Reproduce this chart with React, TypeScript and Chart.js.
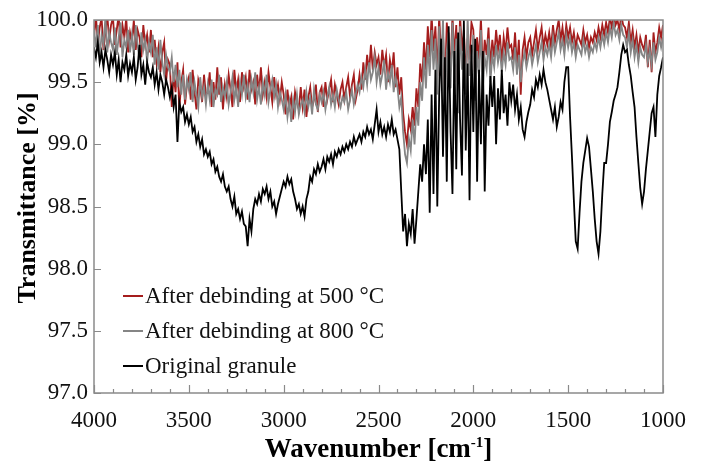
import React, { useEffect, useRef } from "react";
import { Chart, registerables } from "chart.js";

Chart.register(...registerables);

// Spectra sampled every 10 cm-1, from 4000 cm-1 down to 1000 cm-1
const WAVENUMBER_START = 4000;
const WAVENUMBER_STEP = 10;

const originalGranule = [
  99.78, 99.70, 99.82, 99.66, 99.74, 99.62, 99.76, 99.68, 99.58, 99.72,
  99.64, 99.74, 99.56, 99.68, 99.50, 99.66, 99.60, 99.72, 99.55, 99.65,
  99.58, 99.70, 99.52, 99.62, 99.80, 99.56, 99.64, 99.48, 99.66, 99.58,
  99.54, 99.62, 99.48, 99.58, 99.44, 99.56, 99.50, 99.40, 99.52, 99.46,
  99.38, 99.46, 99.30, 99.40, 99.02, 99.34, 99.26, 99.30, 99.18, 99.24,
  99.16, 99.22, 99.10, 99.14, 99.02, 99.08, 98.98, 99.04, 98.92, 98.96,
  98.90, 98.94, 98.84, 98.88, 98.78, 98.82, 98.74, 98.70, 98.76, 98.66,
  98.62, 98.66, 98.56, 98.50, 98.58, 98.44, 98.48, 98.40, 98.46, 98.36,
  98.34, 98.18, 98.40, 98.30, 98.48, 98.56, 98.52, 98.60, 98.54, 98.64,
  98.60, 98.66, 98.56, 98.62, 98.50, 98.54, 98.44, 98.52, 98.58, 98.64,
  98.70, 98.66, 98.74, 98.68, 98.72, 98.62, 98.56, 98.48, 98.52, 98.44,
  98.50, 98.42, 98.56, 98.62, 98.74, 98.70, 98.80, 98.76, 98.84, 98.78,
  98.82, 98.88, 98.80, 98.90, 98.86, 98.92, 98.84, 98.94, 98.90, 98.96,
  98.92, 98.98, 98.94, 99.00, 98.96, 99.02, 98.98, 99.06, 99.00, 99.04,
  99.08, 99.02, 99.10, 99.06, 99.14, 99.08, 99.12, 99.04, 99.16, 99.28,
  99.10, 99.18, 99.08, 99.14, 99.06, 99.16, 99.10, 99.20, 99.08, 99.12,
  99.04, 98.96, 98.62, 98.30, 98.44, 98.18, 98.36, 98.28, 98.48, 98.20,
  98.40, 98.62, 98.84, 98.70, 99.00, 98.76, 99.20, 98.45, 99.40, 98.60,
  99.60, 98.50, 99.40, 99.85, 98.90, 99.70, 98.70, 99.95, 99.10, 98.60,
  99.75, 98.80, 99.90, 99.20, 98.75, 100.00, 98.95, 99.65, 98.55, 99.80,
  99.10, 99.85, 98.70, 99.60, 99.00, 99.75, 98.62, 99.40, 99.15, 99.55,
  99.30, 99.55, 99.00, 99.45, 99.20, 99.60, 99.25, 99.40, 99.15, 99.50,
  99.35, 99.48, 99.28, 99.40, 99.20, 99.30, 99.12, 99.06, 99.18, 99.26,
  99.32, 99.44, 99.38, 99.52, 99.46, 99.56, 99.48, 99.60, 99.50, 99.44,
  99.36, 99.28, 99.20, 99.30, 99.14, 99.22, 99.34, 99.28, 99.50, 99.62,
  99.62, 99.22, 98.90, 98.55, 98.22, 98.16, 98.45, 98.70, 98.85, 98.95,
  99.05, 98.98, 98.80, 98.62, 98.40, 98.22, 98.12, 98.30, 98.60, 98.85,
  98.85, 99.00, 99.18, 99.26, 99.35, 99.40, 99.46, 99.58, 99.72, 99.80,
  99.74, 99.76, 99.64, 99.55, 99.42, 99.30, 99.06, 98.85, 98.65, 98.52,
  98.62, 98.80, 98.95, 99.10, 99.25, 99.30, 99.06, 99.40, 99.55, 99.62,
  99.70,
];

const after800 = [
  99.92, 99.78, 99.96, 99.70, 99.88, 99.80, 100.02, 99.74, 99.90, 99.82,
  99.76, 99.94, 99.72, 99.86, 99.98, 99.70, 99.84, 99.78, 99.92, 99.74,
  99.88, 99.72, 99.96, 99.80, 99.68, 99.90, 99.76, 99.84, 99.66, 99.82,
  99.74, 99.88, 99.64, 99.78, 99.60, 99.84, 99.66, 99.56, 99.72, 99.62,
  99.58, 99.70, 99.50, 99.64, 99.46, 99.60, 99.40, 99.56, 99.36, 99.52,
  99.44, 99.58, 99.34, 99.50, 99.40, 99.30, 99.54, 99.38, 99.46, 99.32,
  99.48, 99.36, 99.52, 99.30, 99.44, 99.40, 99.56, 99.34, 99.46, 99.38,
  99.50, 99.32, 99.42, 99.54, 99.36, 99.46, 99.30, 99.50, 99.40, 99.56,
  99.38, 99.48, 99.34, 99.52, 99.42, 99.58, 99.36, 99.46, 99.32, 99.50,
  99.40, 99.56, 99.34, 99.44, 99.52, 99.38, 99.48, 99.30, 99.42, 99.36,
  99.28, 99.40, 99.22, 99.34, 99.18, 99.36, 99.26, 99.40, 99.24, 99.32,
  99.36, 99.26, 99.42, 99.30, 99.38, 99.24, 99.44, 99.32, 99.28, 99.40,
  99.34, 99.42, 99.28, 99.38, 99.46, 99.32, 99.40, 99.30, 99.44, 99.36,
  99.30, 99.38, 99.34, 99.42, 99.28, 99.36, 99.44, 99.32, 99.40, 99.48,
  99.42, 99.54, 99.46, 99.60, 99.48, 99.66, 99.52, 99.58, 99.70, 99.50,
  99.62, 99.48, 99.56, 99.68, 99.44, 99.58, 99.50, 99.64, 99.42, 99.54,
  99.46, 99.30, 99.38, 99.10, 98.92, 98.85, 99.05, 98.95, 99.20, 99.00,
  99.30, 99.15, 99.50, 99.35, 99.70, 99.45, 99.80, 99.55, 99.92, 99.60,
  99.85, 99.40, 99.95, 99.55, 100.02, 99.30, 99.75, 99.90, 99.45, 99.98,
  99.50, 99.85, 99.25, 99.95, 99.60, 99.80, 99.40, 100.02, 99.55, 99.70,
  99.88, 99.35, 99.75, 99.55, 99.92, 99.45, 99.70, 99.60, 99.85, 99.50,
  99.72, 99.62, 99.80, 99.66, 99.76, 99.58, 99.74, 99.64, 99.82, 99.68,
  99.70, 99.60, 99.78, 99.56, 99.72, 99.50, 99.66, 99.74, 99.62, 99.70,
  99.76, 99.64, 99.72, 99.80, 99.66, 99.74, 99.82, 99.68, 99.78, 99.72,
  99.80, 99.70, 99.86, 99.74, 99.82, 99.90, 99.76, 99.84, 99.72, 99.88,
  99.78, 99.86, 99.74, 99.82, 99.70, 99.80, 99.76, 99.72, 99.84, 99.74,
  99.80, 99.70, 99.78, 99.74, 99.82, 99.76, 99.86, 99.78, 99.88, 99.80,
  99.90, 99.82, 99.94, 99.86, 99.98, 99.88, 99.92, 99.84, 99.96, 99.88,
  99.86, 99.78, 99.90, 99.74, 99.84, 99.70, 99.80, 99.66, 99.78, 99.72,
  99.70, 99.80, 99.66, 99.76, 99.64, 99.82, 99.68, 99.74, 99.86, 99.78,
  99.86,
];

const after500 = [
  99.86, 100.04, 99.80, 99.94, 100.02, 99.76, 99.90, 100.04, 99.84, 99.96,
  100.02, 99.80, 99.92, 100.04, 99.78, 99.96, 99.86, 100.02, 99.74, 99.90,
  99.82, 100.00, 99.76, 99.92, 99.86, 99.70, 99.96, 99.80, 99.88, 99.74,
  99.92, 99.70, 99.84, 99.66, 99.78, 99.58, 99.74, 99.82, 99.50, 99.68,
  99.64, 99.30, 99.56, 99.42, 99.66, 99.28, 99.50, 99.60, 99.32, 99.48,
  99.54, 99.36, 99.60, 99.42, 99.28, 99.52, 99.46, 99.34, 99.56, 99.40,
  99.42, 99.58, 99.30, 99.50, 99.36, 99.62, 99.40, 99.54, 99.28, 99.48,
  99.38, 99.56, 99.44, 99.30, 99.60, 99.42, 99.52, 99.34, 99.58, 99.46,
  99.54, 99.36, 99.60, 99.44, 99.50, 99.32, 99.56, 99.42, 99.62, 99.40,
  99.50, 99.38, 99.58, 99.46, 99.34, 99.54, 99.40, 99.48, 99.36, 99.50,
  99.40, 99.24, 99.44, 99.30, 99.38, 99.20, 99.42, 99.34, 99.28, 99.46,
  99.30, 99.44, 99.22, 99.38, 99.46, 99.30, 99.36, 99.48, 99.26, 99.42,
  99.46, 99.30, 99.50, 99.36, 99.44, 99.52, 99.34, 99.48, 99.40, 99.32,
  99.44, 99.50, 99.36, 99.46, 99.54, 99.38, 99.48, 99.56, 99.36, 99.44,
  99.56, 99.44, 99.66, 99.52, 99.72, 99.58, 99.80, 99.60, 99.74, 99.64,
  99.70, 99.56, 99.76, 99.62, 99.72, 99.50, 99.68, 99.58, 99.74, 99.46,
  99.62, 99.40, 99.54, 99.25, 99.10, 99.00, 99.20, 99.12, 99.30, 99.15,
  99.45, 99.30, 99.65, 99.50, 99.82, 99.60, 99.95, 99.70, 100.04, 99.75,
  99.95, 99.55, 100.04, 99.70, 99.90, 99.45, 99.98, 99.80, 99.60, 100.04,
  99.70, 99.96, 99.40, 100.04, 99.75, 99.92, 99.55, 99.85, 99.68, 99.98,
  99.92, 99.50, 99.86, 99.68, 100.02, 99.58, 99.84, 99.72, 99.94, 99.62,
  99.84, 99.70, 99.92, 99.76, 99.88, 99.66, 99.86, 99.74, 99.94, 99.78,
  99.80, 99.68, 99.90, 99.62, 99.84, 99.40, 99.76, 99.86, 99.70, 99.82,
  99.86, 99.72, 99.82, 99.92, 99.76, 99.86, 99.94, 99.78, 99.88, 99.80,
  99.90, 99.78, 99.96, 99.82, 99.92, 100.00, 99.84, 99.94, 99.80, 99.96,
  99.86, 99.94, 99.82, 99.90, 99.78, 99.88, 99.84, 99.80, 99.92, 99.82,
  99.88, 99.78, 99.86, 99.82, 99.90, 99.84, 99.94, 99.86, 99.96, 99.88,
  99.98, 99.90, 100.02, 99.94, 100.04, 99.96, 100.00, 99.92, 100.04, 99.96,
  99.94, 99.86, 99.98, 99.82, 99.92, 99.78, 99.88, 99.74, 99.86, 99.80,
  99.76, 99.88, 99.62, 99.84, 99.58, 99.90, 99.74, 99.82, 99.94, 99.86,
  99.96,
];

const legendLabels = [
  "After debinding at 500 \u00B0C",
  "After debinding at 800 \u00B0C",
  "Original granule",
];
const seriesColors = ["#a51d1d", "#858585", "#000000"];
const xMajorTicks = [4000, 3500, 3000, 2500, 2000, 1500, 1000];
const yMajorTicks = [97.0, 97.5, 98.0, 98.5, 99.0, 99.5, 100.0];
const yTitle = "Transmittance [%]";

const SERIF = '"Liberation Serif", "Times New Roman", serif';

const toPoints = (values: number[]) =>
  values.map((v, i) => ({ x: WAVENUMBER_START - i * WAVENUMBER_STEP, y: v }));

// Box frame with inward tick marks
const framePlugin = {
  id: "frameTicks",
  afterDatasetsDraw(chart: any) {
    const { ctx, chartArea: a, scales } = chart;
    ctx.save();
    ctx.strokeStyle = "#8a8a8a";
    ctx.lineWidth = 1.5;
    ctx.strokeRect(a.left, a.top, a.right - a.left, a.bottom - a.top);
    ctx.lineWidth = 1.2;
    ctx.beginPath();
    for (let w = 1000; w <= 4000; w += 100) {
      const px = Math.round(scales.x.getPixelForValue(w)) + 0.5;
      const len = xMajorTicks.includes(w) ? 8 : 4;
      ctx.moveTo(px, a.bottom);
      ctx.lineTo(px, a.bottom - len);
    }
    for (const v of yMajorTicks) {
      const py = Math.round(scales.y.getPixelForValue(v)) + 0.5;
      ctx.moveTo(a.left, py);
      ctx.lineTo(a.left + 7, py);
    }
    ctx.stroke();
    ctx.restore();
  },
};

// Legend inside the plot, and both axis titles (x title has a superscript)
const annotatePlugin = {
  id: "annotate",
  afterDraw(chart: any) {
    const { ctx, chartArea: a } = chart;
    ctx.save();
    ctx.font = `23px ${SERIF}`;
    ctx.textBaseline = "middle";
    ctx.textAlign = "left";
    const rows = [296, 331, 366];
    legendLabels.forEach((label, i) => {
      ctx.strokeStyle = seriesColors[i];
      ctx.lineWidth = 2;
      ctx.beginPath();
      ctx.moveTo(123, rows[i]);
      ctx.lineTo(143, rows[i]);
      ctx.stroke();
      ctx.fillStyle = "#111";
      ctx.fillText(label, 145, rows[i] + 1);
    });

    // y-axis title
    ctx.save();
    ctx.translate(28, 198);
    ctx.rotate(-Math.PI / 2);
    ctx.font = `bold 26px ${SERIF}`;
    ctx.textAlign = "center";
    ctx.textBaseline = "middle";
    ctx.fillStyle = "#000";
    ctx.fillText(yTitle, 0, 0);
    ctx.restore();

    // x-axis title
    const main = "Wavenumber [cm";
    const sup = "-1";
    const close = "]";
    const big = `bold 27px ${SERIF}`;
    const small = `bold 15px ${SERIF}`;
    ctx.font = big;
    const w1 = ctx.measureText(main).width;
    const w3 = ctx.measureText(close).width;
    ctx.font = small;
    const w2 = ctx.measureText(sup).width;
    const total = w1 + w2 + w3;
    const cx = (a.left + a.right) / 2;
    let x = cx - total / 2;
    const base = 457;
    ctx.textAlign = "left";
    ctx.textBaseline = "alphabetic";
    ctx.fillStyle = "#000";
    ctx.font = big;
    ctx.fillText(main, x, base);
    x += w1;
    ctx.font = small;
    ctx.fillText(sup, x, base - 10);
    x += w2;
    ctx.font = big;
    ctx.fillText(close, x, base);
    ctx.restore();
  },
};

export default function App() {
  const canvasRef = useRef<HTMLCanvasElement | null>(null);

  useEffect(() => {
    const canvas = canvasRef.current;
    if (!canvas) return;
    const chart = new Chart(canvas, {
      type: "line",
      data: {
        datasets: [
          {
            label: legendLabels[2],
            data: toPoints(originalGranule),
            borderColor: seriesColors[2],
            borderWidth: 1.8,
            pointRadius: 0,
            tension: 0,
            order: 0,
          },
          {
            label: legendLabels[1],
            data: toPoints(after800),
            borderColor: seriesColors[1],
            borderWidth: 1.8,
            pointRadius: 0,
            tension: 0,
            order: 1,
          },
          {
            label: legendLabels[0],
            data: toPoints(after500),
            borderColor: seriesColors[0],
            borderWidth: 1.8,
            pointRadius: 0,
            tension: 0,
            order: 2,
          },
        ],
      },
      options: {
        animation: false,
        responsive: false,
        devicePixelRatio: 1,
        layout: { padding: { left: 0, right: 38, top: 20, bottom: 0 } },
        plugins: {
          legend: { display: false },
          tooltip: { enabled: false },
        },
        scales: {
          x: {
            type: "linear",
            reverse: true,
            min: 1000,
            max: 4000,
            afterBuildTicks: (scale: any) => {
              scale.ticks = xMajorTicks.map((v) => ({ value: v }));
            },
            afterFit: (scale: any) => {
              scale.height = 74;
            },
            grid: { display: false, drawTicks: false },
            border: { display: false },
            ticks: {
              padding: 14,
              color: "#111",
              font: { family: SERIF, size: 23 },
              maxRotation: 0,
              autoSkip: false,
              callback: (v: any) => String(v),
            },
          },
          y: {
            type: "linear",
            min: 97,
            max: 100,
            afterBuildTicks: (scale: any) => {
              scale.ticks = yMajorTicks.map((v) => ({ value: v }));
            },
            afterFit: (scale: any) => {
              scale.width = 94;
            },
            grid: { display: false, drawTicks: false },
            border: { display: false },
            ticks: {
              padding: 6,
              color: "#111",
              font: { family: SERIF, size: 23 },
              autoSkip: false,
              callback: (v: any) => Number(v).toFixed(1),
            },
          },
        },
      },
      plugins: [framePlugin, annotatePlugin],
    });
    return () => chart.destroy();
  }, []);

  return (
    <div
      style={{
        position: "fixed",
        left: 0,
        top: 0,
        width: 701,
        height: 467,
        background: "#fff",
      }}
    >
      <canvas ref={canvasRef} width={701} height={467} />
    </div>
  );
}
